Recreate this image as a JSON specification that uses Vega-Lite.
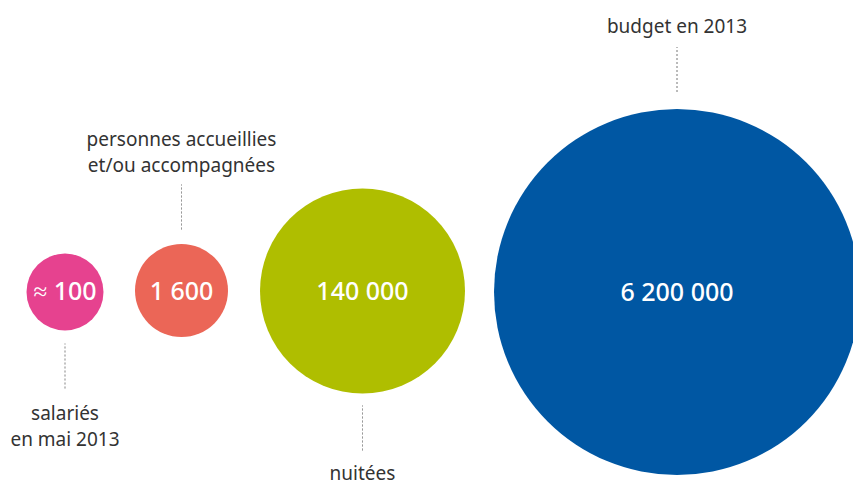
{
  "$schema": "https://vega.github.io/schema/vega-lite/v6.json",
  "width": 853,
  "height": 482,
  "padding": 0,
  "autosize": {"type": "none"},
  "background": "white",
  "config": {"view": {"stroke": null}, "text": {"lineBreak": "\n"}},
  "data": {
    "values": [
      {"value": 100, "display": "≈ 100", "label": "salariés\nen mai 2013"},
      {"value": 1600, "display": "1 600", "label": "personnes accueillies\net/ou accompagnées"},
      {"value": 140000, "display": "140 000", "label": "nuitées"},
      {"value": 6200000, "display": "6 200 000", "label": "budget en 2013"}
    ]
  },
  "encoding": {
    "x": {
      "field": "value",
      "type": "quantitative",
      "axis": null,
      "scale": {"type": "linear", "domain": [100, 1600, 140000, 6200000], "range": [65, 181.5, 362.5, 677], "zero": false, "nice": false}
    }
  },
  "layer": [
    {
      "mark": {"type": "circle", "opacity": 1},
      "encoding": {
        "y": {"field": "value", "type": "quantitative", "axis": null,
          "scale": {"type": "linear", "domain": [100, 1600, 140000, 6200000], "range": [292, 290.5, 291, 292], "zero": false, "nice": false}},
        "size": {"field": "value", "type": "quantitative", "legend": null,
          "scale": {"type": "linear", "domain": [100, 1600, 140000, 6200000], "range": [5929, 8649, 42025, 133956], "zero": false, "nice": false}},
        "color": {"field": "value", "type": "nominal", "legend": null,
          "scale": {"domain": [100, 1600, 140000, 6200000], "range": ["#E6428F", "#EB6657", "#AFBE00", "#0057A3"]}}
      }
    },
    {
      "mark": {"type": "text", "color": "white", "font": "Noto Sans", "fontSize": 25, "fontWeight": 500, "baseline": "middle", "align": "center"},
      "encoding": {
        "y": {"field": "value", "type": "quantitative", "axis": null,
          "scale": {"type": "linear", "domain": [100, 1600, 140000, 6200000], "range": [292, 292, 292, 292.5], "zero": false, "nice": false}},
        "text": {"field": "display"}
      }
    },
    {
      "mark": {"type": "tick", "orient": "vertical", "size": 46, "thickness": 0, "fill": null, "stroke": "#777777", "strokeWidth": 1, "strokeDash": [1, 3], "opacity": 1},
      "encoding": {
        "y": {"field": "value", "type": "quantitative", "axis": null,
          "scale": {"type": "linear", "domain": [100, 1600, 140000, 6200000], "range": [366.5, 207.5, 428.5, 70], "zero": false, "nice": false}}
      }
    },
    {
      "mark": {"type": "text", "color": "#333333", "font": "Noto Sans", "fontSize": 19, "baseline": "alphabetic", "align": "center", "lineHeight": 26},
      "encoding": {
        "y": {"field": "value", "type": "quantitative", "axis": null,
          "scale": {"type": "linear", "domain": [100, 1600, 140000, 6200000], "range": [420, 146, 480, 33], "zero": false, "nice": false}},
        "text": {"field": "label"}
      }
    }
  ],
  "resolve": {"scale": {"y": "independent"}}
}
